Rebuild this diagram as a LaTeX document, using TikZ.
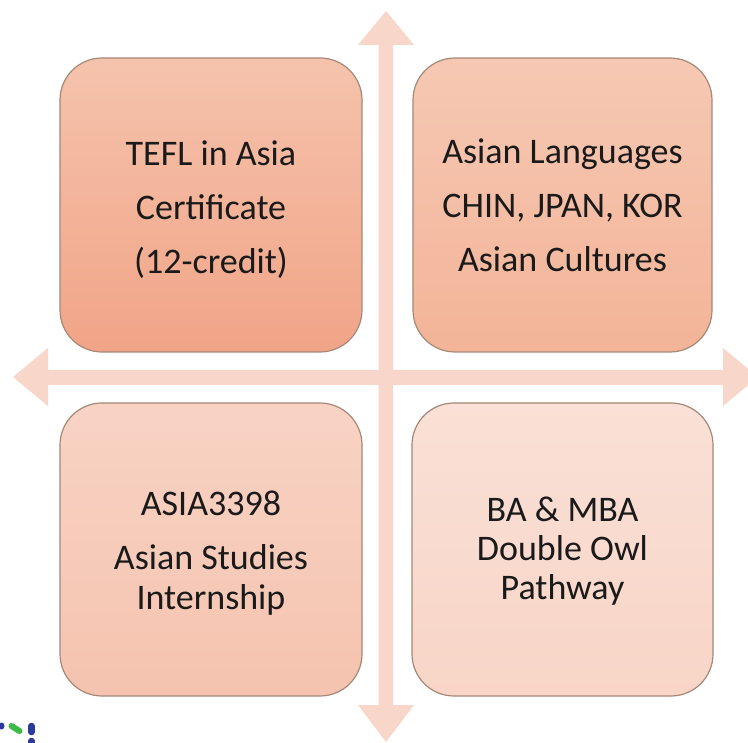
\documentclass[tikz,border=0pt]{standalone}
\usepackage{fontspec}
\setmainfont{Carlito}
\definecolor{arrowc}{HTML}{F8D6C9}
\definecolor{edgec}{HTML}{A48878}
\definecolor{tlA}{HTML}{F5C3AC}
\definecolor{tlB}{HTML}{F1A487}
\definecolor{trA}{HTML}{F6C8B3}
\definecolor{trB}{HTML}{F3B498}
\definecolor{blA}{HTML}{F8D3C4}
\definecolor{blB}{HTML}{F5C3AF}
\definecolor{brA}{HTML}{FAE0D6}
\definecolor{brB}{HTML}{F8D5C7}
\definecolor{logoblue}{HTML}{2B3A9B}
\definecolor{logogreen}{HTML}{3DBB4A}
\definecolor{txt}{HTML}{1A1A1A}
\tikzset{
  quad/.style={draw=edgec, line width=1.2pt, rounded corners=42pt,
    align=center, inner sep=0pt, outer sep=0pt, text=txt},
  bigarrow/.style={fill=arrowc, draw=none}
}
\begin{document}
\begin{tikzpicture}[x=1pt,y=-1pt]
\useasboundingbox (0,0) rectangle (748,743);
\fill[white] (0,0) rectangle (748,743);
\begin{scope}
\clip (0,0) rectangle (748,743);
% horizontal double arrow
\fill[bigarrow] (13,377) -- (48,348) -- (48,370) -- (723,370) -- (723,348)
  -- (758,377) -- (723,406) -- (723,385) -- (48,385) -- (48,406) -- cycle;
% vertical double arrow
\fill[bigarrow] (386,11) -- (414,45) -- (393,45) -- (393,705) -- (414,705)
  -- (386,742) -- (358,705) -- (378.5,705) -- (378.5,45) -- (358,45) -- cycle;
\end{scope}
% boxes
\node[quad, minimum width=302pt, minimum height=294pt,
  top color=tlA, bottom color=tlB, font=\fontsize{36}{54}\selectfont] (tl) at (211,205)
  {\rule{0pt}{33pt}TEFL in Asia\\Certificate\\(12-credit)};
\node[quad, minimum width=299pt, minimum height=294pt,
  top color=trA, bottom color=trB, font=\fontsize{36}{54}\selectfont] (tr) at (562.5,205)
  {Asian Languages\\CHIN, JPAN, KOR\\Asian Cultures};
\node[quad, minimum width=302pt, minimum height=293pt,
  top color=blA, bottom color=blB, font=\fontsize{36}{40}\selectfont] (bl) at (211,549.5)
  {\rule{0pt}{31.5pt}ASIA3398\\[14pt]Asian Studies\\Internship};
\node[quad, minimum width=301pt, minimum height=293pt,
  top color=brA, bottom color=brB, font=\fontsize{36}{39}\selectfont] (br) at (562.5,549.5)
  {\rule{0pt}{27.5pt}BA \& MBA\\Double Owl\\Pathway};
% logo fragment
\begin{scope}
\clip (0,700) rectangle (50,743);
\fill[logoblue] (1.5,726) ellipse (3pt and 3.5pt);
\draw[logogreen, line width=6pt, line cap=round] (11.5,726) -- (19.5,731);
\draw[logoblue, line width=6.5pt, line cap=round] (31.5,726) -- (31.5,732);
\draw[logoblue, line width=6.5pt, line cap=round] (31.5,741) -- (31.5,746);
\end{scope}
\end{tikzpicture}
\end{document}
